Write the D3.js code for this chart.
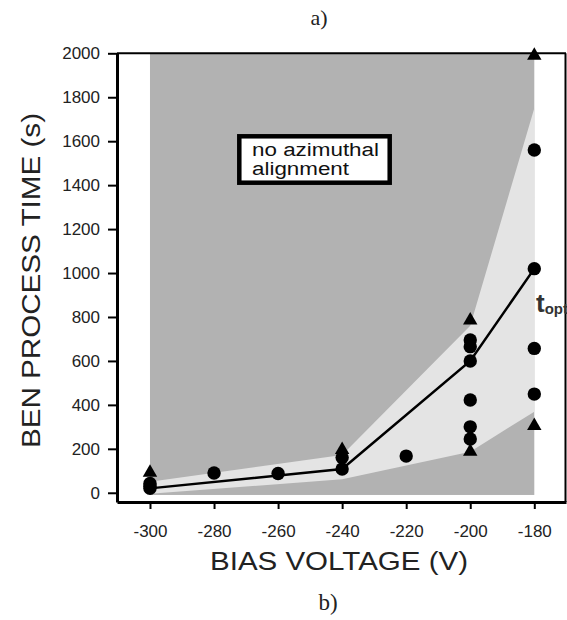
<html lang="en">
  <head>
    <meta charset="utf-8">
    <title>BEN process time vs bias voltage</title>
    <script src="https://d3js.org/d3.v7.min.js"></script>
    <style>
      body { margin: 0; background: #fff; }
    </style>
  </head>
  <body>
    <div id="viz"></div>
    <script type="text/javascript">
    // data
    var circleV = [-300, -300, -300, -280, -260, -240, -240, -220, -200, -200, -200, -200, -200, -200, -180, -180, -180, -180];
    var circleT = [42, 30, 20, 90, 88, 160, 108, 167, 695, 665, 600, 422, 300, 245, 1560, 1020, 657, 449];
    var triV = [-300, -240, -200, -200, -180, -180];
    var triT = [92, 195, 785, 187, 1990, 305];
    // mean line
    var lineV = [-300, -240, -200, -180];
    var lineT = [20, 108, 600, 1020];
    // light band (optimum window)
    var bandV = [-300, -240, -200, -180];
    var bandHi = [50, 172, 760, 1750];
    var bandLo = [-5, 62, 187, 369];
    // dark region: no azimuthal alignment
    var darkV = [-300, -180];
    var darkT = [-10, 2000];

    var xTicks = [-300, -280, -260, -240, -220, -200, -180];
    var yTicks = [0, 200, 400, 600, 800, 1000, 1200, 1400, 1600, 1800, 2000];

    var sans = "'Liberation Sans', Arial, Helvetica, sans-serif";
    var serif = "'Liberation Serif', 'Times New Roman', serif";

    var w = 567;
    var h = 620;

    var svg = d3.select("#viz")
      .append("svg")
      .attr("width", w)
      .attr("height", h)
      .style("font-family", sans);

    var x = d3.scaleLinear()
      .domain([-310.3, -170.1])
      .range([117, 566]);
    var y = d3.scaleLinear()
      .domain([-42, 2000])
      .range([502, 53.3]);

    // dark gray background
    svg.append("rect")
      .attr("x", x(darkV[0]))
      .attr("y", y(darkT[1]))
      .attr("width", x(darkV[1]) - x(darkV[0]))
      .attr("height", y(darkT[0]) - y(darkT[1]))
      .attr("fill", "#b2b2b2");

    // light band
    var area = d3.area()
      .x(function(d, i) { return x(bandV[i]); })
      .y0(function(d, i) { return y(bandLo[i]); })
      .y1(function(d, i) { return y(bandHi[i]); });
    svg.append("path")
      .datum(bandV)
      .attr("d", area)
      .attr("fill", "#e4e4e4");

    // mean line
    var line = d3.line()
      .x(function(d, i) { return x(lineV[i]); })
      .y(function(d, i) { return y(lineT[i]); });
    svg.append("path")
      .datum(lineV)
      .attr("d", line)
      .attr("fill", "none")
      .attr("stroke", "#000")
      .attr("stroke-width", 2.5);

    // circles
    svg.selectAll("circle.pt")
      .data(circleV)
      .enter()
      .append("circle")
      .attr("class", "pt")
      .attr("cx", function(d) { return x(d); })
      .attr("cy", function(d, i) { return y(circleT[i]); })
      .attr("r", 6.7)
      .attr("fill", "#000");

    // triangles
    var tri = d3.symbol().type(d3.symbolTriangle).size(90);
    svg.selectAll("path.tri")
      .data(triV)
      .enter()
      .append("path")
      .attr("class", "tri")
      .attr("d", tri)
      .attr("transform", function(d, i) {
        return "translate(" + x(d) + "," + y(triT[i]) + ")";
      })
      .attr("fill", "#000");

    // frame (top and right)
    svg.append("line")
      .attr("x1", 117).attr("x2", 566)
      .attr("y1", y(2000)).attr("y2", y(2000))
      .attr("stroke", "#000").attr("stroke-width", 2);
    svg.append("line")
      .attr("x1", 565.5).attr("x2", 565.5)
      .attr("y1", y(2000)).attr("y2", 502)
      .attr("stroke", "#000").attr("stroke-width", 2);

    // axes, plain hyphen minus and no thousands comma
    var fmt = function(d) { return String(d); };
    var xAxis = d3.axisBottom(x)
      .tickValues(xTicks)
      .tickFormat(fmt)
      .tickSizeInner(7)
      .tickSizeOuter(0)
      .tickPadding(16);
    var yAxis = d3.axisLeft(y)
      .tickValues(yTicks)
      .tickFormat(fmt)
      .tickSizeInner(9)
      .tickSizeOuter(0)
      .tickPadding(8);

    var gx = svg.append("g")
      .attr("transform", "translate(0,502)")
      .call(xAxis);
    var gy = svg.append("g")
      .attr("transform", "translate(117,0)")
      .call(yAxis);

    [gx, gy].forEach(function(g) {
      g.attr("font-family", null).attr("font-size", null);
      g.select(".domain").attr("stroke-width", 3);
      g.selectAll(".tick line").attr("stroke-width", 2);
      g.selectAll(".tick text")
        .style("font-family", sans)
        .style("font-size", "17px")
        .attr("fill", "#222");
    });

    // axis titles
    svg.append("text")
      .attr("x", 339)
      .attr("y", 570)
      .attr("text-anchor", "middle")
      .attr("font-size", 25.5)
      .attr("fill", "#222")
      .attr("textLength", 258)
      .attr("lengthAdjust", "spacingAndGlyphs")
      .text("BIAS VOLTAGE (V)");

    svg.append("text")
      .attr("transform", "translate(40,280.5) rotate(-90)")
      .attr("text-anchor", "middle")
      .attr("font-size", 25.5)
      .attr("fill", "#222")
      .attr("textLength", 335)
      .attr("lengthAdjust", "spacingAndGlyphs")
      .text("BEN PROCESS TIME (s)");

    // panel labels
    svg.append("text")
      .attr("x", 319).attr("y", 25)
      .attr("text-anchor", "middle")
      .style("font-family", serif)
      .attr("font-size", 22)
      .attr("fill", "#222")
      .text("a)");
    svg.append("text")
      .attr("x", 328).attr("y", 610)
      .attr("text-anchor", "middle")
      .style("font-family", serif)
      .attr("font-size", 23)
      .attr("fill", "#222")
      .text("b)");

    // legend box
    svg.append("rect")
      .attr("x", 239.3).attr("y", 136.3)
      .attr("width", 150.4).attr("height", 46.4)
      .attr("fill", "#fff")
      .attr("stroke", "#000")
      .attr("stroke-width", 4.5);
    svg.append("text")
      .attr("x", 252).attr("y", 156)
      .attr("font-size", 18)
      .attr("fill", "#111")
      .attr("textLength", 127)
      .attr("lengthAdjust", "spacingAndGlyphs")
      .text("no azimuthal");
    svg.append("text")
      .attr("x", 252).attr("y", 175)
      .attr("font-size", 18)
      .attr("fill", "#111")
      .attr("textLength", 97)
      .attr("lengthAdjust", "spacingAndGlyphs")
      .text("alignment");

    // t_opt label
    var topt = svg.append("text")
      .attr("x", 536).attr("y", 312)
      .attr("font-weight", "bold")
      .attr("font-size", 26)
      .attr("fill", "#333");
    topt.append("tspan").text("t");
    topt.append("tspan")
      .attr("font-size", 15)
      .attr("dy", 2)
      .text("opt");
    </script>
  </body>
</html>
